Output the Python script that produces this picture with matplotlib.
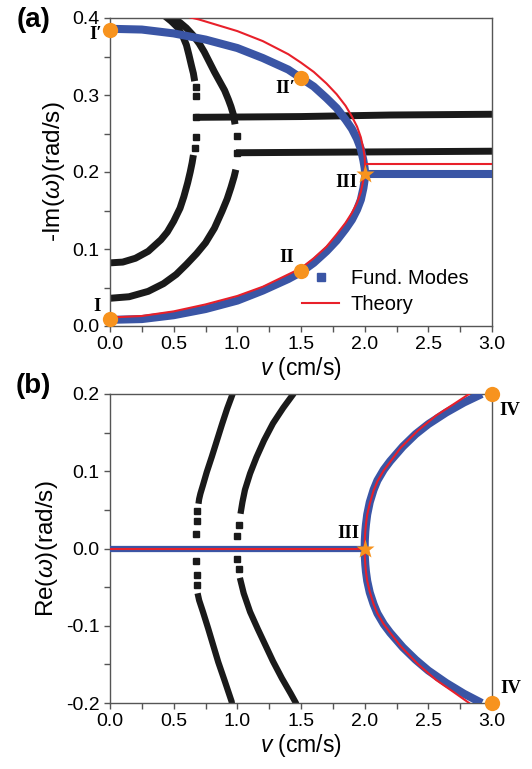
import matplotlib
matplotlib.use("Agg")
import matplotlib.pyplot as plt
from matplotlib.lines import Line2D

plt.rcParams['font.family'] = ['Liberation Sans', 'DejaVu Sans']
plt.rcParams['mathtext.fontset'] = 'custom'
plt.rcParams['mathtext.rm'] = 'Liberation Sans'
plt.rcParams['mathtext.it'] = 'Liberation Sans:italic'

# ---------------- data: panel (a)  -Im(omega) vs v ----------------
theory_low_v = [0, 0.25, 0.5, 0.75, 1.0, 1.2, 1.4, 1.5, 1.6, 1.7, 1.78, 1.85, 1.9, 1.94, 1.97, 1.99, 2.0, 2.003]
theory_low_y = [0.011, 0.013, 0.019, 0.028, 0.039, 0.051, 0.067, 0.075, 0.088, 0.103, 0.119, 0.134, 0.147, 0.160, 0.174, 0.190, 0.200, 0.21]
theory_up_v = [0.60, 0.7, 0.8, 1.0, 1.2, 1.4, 1.5, 1.6, 1.7, 1.78, 1.85, 1.9, 1.94, 1.97, 1.99, 2.0, 2.003]
theory_up_y = [0.402, 0.398, 0.393, 0.383, 0.370, 0.353, 0.342, 0.330, 0.315, 0.301, 0.286, 0.272, 0.259, 0.245, 0.230, 0.220, 0.21]
theory_flat_v = [2.003, 3.0]
theory_flat_y = [0.21, 0.21]

fund_low_v = [0, 0.25, 0.5, 0.75, 1.0, 1.2, 1.4, 1.5, 1.6, 1.7, 1.78, 1.85, 1.9, 1.94, 1.97, 1.99, 2.0, 2.005]
fund_low_y = [0.008, 0.009, 0.014, 0.022, 0.033, 0.046, 0.061, 0.070, 0.082, 0.097, 0.111, 0.126, 0.138, 0.151, 0.164, 0.179, 0.190, 0.197]
fund_up_v = [0, 0.25, 0.5, 0.75, 1.0, 1.2, 1.4, 1.5, 1.6, 1.7, 1.78, 1.85, 1.9, 1.94, 1.97, 1.99, 2.0, 2.005]
fund_up_y = [0.386, 0.385, 0.380, 0.372, 0.361, 0.348, 0.333, 0.322, 0.311, 0.296, 0.283, 0.268, 0.256, 0.243, 0.230, 0.215, 0.205, 0.197]
fund_flat_v = [2.005, 3.0]
fund_flat_y = [0.197, 0.197]

m1_low_v = [0, 0.1, 0.2, 0.3, 0.4, 0.45, 0.5, 0.55, 0.58, 0.61, 0.63, 0.645, 0.655]
m1_low_y = [0.082, 0.083, 0.088, 0.097, 0.112, 0.122, 0.136, 0.153, 0.168, 0.186, 0.200, 0.212, 0.222]
m1_up_v = [0.665, 0.655, 0.64, 0.62, 0.60, 0.57, 0.53, 0.48, 0.42]
m1_up_y = [0.318, 0.328, 0.338, 0.352, 0.365, 0.377, 0.388, 0.396, 0.404]
m1_sq_v = [0.665, 0.672, 0.677, 0.677, 0.672]
m1_sq_y = [0.231, 0.245, 0.271, 0.299, 0.310]
m1_flat_v = [0.67, 1.5, 2.2, 3.0]
m1_flat_y = [0.271, 0.272, 0.274, 0.275]

m2_low_v = [0, 0.15, 0.3, 0.42, 0.52, 0.6, 0.68, 0.75, 0.82, 0.88, 0.92, 0.95, 0.975, 0.988]
m2_low_y = [0.036, 0.038, 0.045, 0.055, 0.067, 0.080, 0.094, 0.108, 0.127, 0.149, 0.165, 0.180, 0.194, 0.203]
m2_up_v = [0.982, 0.97, 0.95, 0.93, 0.9, 0.86, 0.82, 0.78, 0.74, 0.70, 0.65, 0.60, 0.55, 0.50, 0.46]
m2_up_y = [0.262, 0.274, 0.285, 0.294, 0.306, 0.318, 0.330, 0.343, 0.356, 0.367, 0.378, 0.387, 0.394, 0.400, 0.405]
m2_sq_v = [0.995, 1.0]
m2_sq_y = [0.225, 0.247]
m2_flat_v = [0.99, 3.0]
m2_flat_y = [0.225, 0.227]

# ---------------- data: panel (b)  Re(omega) vs v ----------------
theory_re_flat_v = [0, 2.0]
theory_re_flat_y = [0, 0]
theory_re_up_v = [2.0, 2.001, 2.005, 2.01, 2.02, 2.04, 2.07, 2.1, 2.15, 2.2, 2.28, 2.42, 2.56, 2.7, 2.82]
theory_re_up_y = [0.0, 0.010, 0.022, 0.031, 0.044, 0.058, 0.075, 0.087, 0.101, 0.112, 0.130, 0.153, 0.172, 0.187, 0.2]
theory_re_low_v = [2.0, 2.001, 2.005, 2.01, 2.02, 2.04, 2.07, 2.1, 2.15, 2.2, 2.28, 2.42, 2.56, 2.7, 2.82]
theory_re_low_y = [0.0, -0.010, -0.021, -0.030, -0.042, -0.056, -0.072, -0.084, -0.098, -0.109, -0.126, -0.150, -0.170, -0.186, -0.2]

fund_re_flat_v = [0, 2.0]
fund_re_flat_y = [0, 0]
fund_re_up_v = [2.0, 2.001, 2.005, 2.01, 2.02, 2.04, 2.07, 2.1, 2.15, 2.2, 2.3, 2.4, 2.5, 2.64, 2.78, 2.92]
fund_re_up_y = [0.0, 0.010, 0.022, 0.031, 0.044, 0.060, 0.076, 0.088, 0.102, 0.113, 0.132, 0.148, 0.161, 0.176, 0.189, 0.2]
fund_re_low_v = [2.0, 2.001, 2.005, 2.01, 2.02, 2.04, 2.07, 2.1, 2.15, 2.2, 2.3, 2.4, 2.5, 2.64, 2.78, 2.92]
fund_re_low_y = [0.0, -0.010, -0.021, -0.030, -0.042, -0.057, -0.072, -0.084, -0.098, -0.109, -0.128, -0.144, -0.158, -0.174, -0.188, -0.2]

m1_re_up_v = [0.695, 0.70, 0.71, 0.73, 0.76, 0.80, 0.84, 0.88, 0.92, 0.965, 0.975]
m1_re_up_y = [0.058, 0.064, 0.071, 0.082, 0.099, 0.119, 0.140, 0.161, 0.181, 0.201, 0.206]
m1_re_low_v = [0.688, 0.70, 0.73, 0.77, 0.81, 0.85, 0.90, 0.955, 0.962]
m1_re_low_y = [-0.058, -0.067, -0.082, -0.103, -0.125, -0.147, -0.171, -0.198, -0.206]
m1_re_sq_v = [0.685, 0.68, 0.675, 0.675, 0.68, 0.685]
m1_re_sq_y = [0.049, 0.036, 0.019, -0.016, -0.034, -0.047]

m2_re_up_v = [1.025, 1.04, 1.06, 1.1, 1.15, 1.21, 1.28, 1.36, 1.44, 1.455]
m2_re_up_y = [0.045, 0.060, 0.076, 0.097, 0.118, 0.140, 0.162, 0.182, 0.200, 0.206]
m2_re_low_v = [1.02, 1.05, 1.10, 1.16, 1.22, 1.28, 1.35, 1.42, 1.46, 1.47]
m2_re_low_y = [-0.038, -0.058, -0.082, -0.104, -0.125, -0.146, -0.168, -0.188, -0.200, -0.206]
m2_re_sq_v = [1.01, 1.0, 1.0, 1.015]
m2_re_sq_y = [0.030, 0.016, -0.013, -0.027]

# special points
pts_a_circle_v = [0.0, 1.5, 1.5, 0.0]
pts_a_circle_y = [0.385, 0.322, 0.071, 0.009]
pts_a_star = (2.0, 0.197)
pts_b_circle_v = [3.0, 3.0]
pts_b_circle_y = [0.2, -0.2]
pts_b_star = (2.0, 0.0)

labels_a = [("I\u2032", -0.11, 0.378), ("II\u2032", 1.38, 0.309), ("III", 1.86, 0.186),
            ("II", 1.39, 0.089), ("I", -0.10, 0.025)]
labels_b = [("III", 1.87, 0.019), ("IV", 3.14, 0.178), ("IV", 3.15, -0.181)]

BLUE = '#3A55A5'
RED = '#E8202A'
BLACK = '#1a1a1a'
ORANGE = '#F7931E'

fig = plt.figure(figsize=(5.32, 7.69), dpi=100)
axa = fig.add_axes([110/532, 1-326/769, 382/532, 308/769])
axb = fig.add_axes([110/532, 1-703/769, 382/532, 309/769])

blk_kw = dict(color=BLACK, lw=5.0, solid_capstyle='butt', solid_joinstyle='round', zorder=2)
sq_kw = dict(ls='none', marker='s', ms=5.0, color=BLACK, zorder=2)
blu_kw = dict(color=BLUE, lw=5.8, solid_capstyle='butt', solid_joinstyle='round', zorder=3)
red_kw = dict(color=RED, lw=1.5, zorder=4)

# panel a
for v, y in [(m1_low_v, m1_low_y), (m1_up_v, m1_up_y), (m1_flat_v, m1_flat_y),
             (m2_low_v, m2_low_y), (m2_up_v, m2_up_y), (m2_flat_v, m2_flat_y)]:
    axa.plot(v, y, **blk_kw)
axa.plot(m1_sq_v, m1_sq_y, **sq_kw)
axa.plot(m2_sq_v, m2_sq_y, **sq_kw)
for v, y in [(fund_low_v, fund_low_y), (fund_up_v, fund_up_y), (fund_flat_v, fund_flat_y)]:
    axa.plot(v, y, **blu_kw)
for v, y in [(theory_low_v, theory_low_y), (theory_up_v, theory_up_y), (theory_flat_v, theory_flat_y)]:
    axa.plot(v, y, **red_kw)
axa.plot(pts_a_circle_v, pts_a_circle_y, ls='none', marker='o', ms=11, color=ORANGE,
         mec='none', zorder=6, clip_on=False)
axa.plot([pts_a_star[0]], [pts_a_star[1]], ls='none', marker='*', ms=14, color=ORANGE,
         mec='none', zorder=6, clip_on=False)

# panel b
for v, y in [(m1_re_up_v, m1_re_up_y), (m1_re_low_v, m1_re_low_y),
             (m2_re_up_v, m2_re_up_y), (m2_re_low_v, m2_re_low_y)]:
    axb.plot(v, y, **dict(blk_kw, lw=4.5))
axb.plot(m1_re_sq_v, m1_re_sq_y, **sq_kw)
axb.plot(m2_re_sq_v, m2_re_sq_y, **sq_kw)
axb.plot(fund_re_flat_v, fund_re_flat_y, **dict(blu_kw, lw=4.5))
for v, y in [(fund_re_up_v, fund_re_up_y), (fund_re_low_v, fund_re_low_y)]:
    axb.plot(v, y, **blu_kw)
for v, y in [(theory_re_flat_v, theory_re_flat_y), (theory_re_up_v, theory_re_up_y),
             (theory_re_low_v, theory_re_low_y)]:
    axb.plot(v, y, **red_kw)
axb.plot(pts_b_circle_v, pts_b_circle_y, ls='none', marker='o', ms=11, color=ORANGE,
         mec='none', zorder=6, clip_on=False)
axb.plot([pts_b_star[0]], [pts_b_star[1]], ls='none', marker='*', ms=14, color=ORANGE,
         mec='none', zorder=6, clip_on=False)

serif = dict(family='Liberation Serif', fontweight='bold', fontsize=13.5,
             ha='center', va='center', clip_on=False, zorder=7)
for t, x, y in labels_a:
    axa.text(x, y, t, **serif)
for t, x, y in labels_b:
    axb.text(x, y, t, **serif)

# axes styling
for ax, ylim, yt, lab in [(axa, (0.0, 0.4), [0.0, 0.1, 0.2, 0.3, 0.4], r'-Im($\omega$)(rad/s)'),
                          (axb, (-0.2, 0.2), [-0.2, -0.1, 0.0, 0.1, 0.2], r'Re($\omega$)(rad/s)')]:
    ax.set_xlim(0, 3.0)
    ax.set_ylim(*ylim)
    ax.set_xticks([0.0, 0.5, 1.0, 1.5, 2.0, 2.5, 3.0])
    ax.set_xticks([0.25, 0.75, 1.25, 1.75, 2.25, 2.75], minor=True)
    ax.set_yticks(yt)
    ax.set_yticks([(yt[i] + yt[i+1]) / 2 for i in range(len(yt) - 1)], minor=True)
    ax.set_xticklabels(['%.1f' % t for t in [0.0, 0.5, 1.0, 1.5, 2.0, 2.5, 3.0]])
    ax.set_yticklabels(['%.1f' % t for t in yt])
    ax.tick_params(which='both', direction='out', length=4.5, width=1.0, color='#555555',
                   labelsize=14, pad=3, top=False, right=False)
    for s in ax.spines.values():
        s.set_color('#555555')
        s.set_linewidth(1.0)
    ax.set_xlabel(r'$v$ (cm/s)', fontsize=16.5, labelpad=1)
    ax.set_ylabel(lab, fontsize=17.5, labelpad=4)

axa.text(-0.20, 0.995, '(a)', transform=axa.transAxes, fontsize=20, fontweight='bold',
         ha='center', va='center')
axb.text(-0.20, 1.025, '(b)', transform=axb.transAxes, fontsize=20, fontweight='bold',
         ha='center', va='center')

handles = [Line2D([], [], ls='none', marker='s', ms=6, color=BLUE),
           Line2D([], [], color=RED, lw=1.5)]
axa.legend(handles, ['Fund. Modes', 'Theory'], loc='lower right', bbox_to_anchor=(0.97, 0.0),
           frameon=False, fontsize=14.5, handlelength=1.8, handletextpad=0.6, labelspacing=0.35,
           borderaxespad=0.2)

fig.savefig('out.png', dpi=100)
